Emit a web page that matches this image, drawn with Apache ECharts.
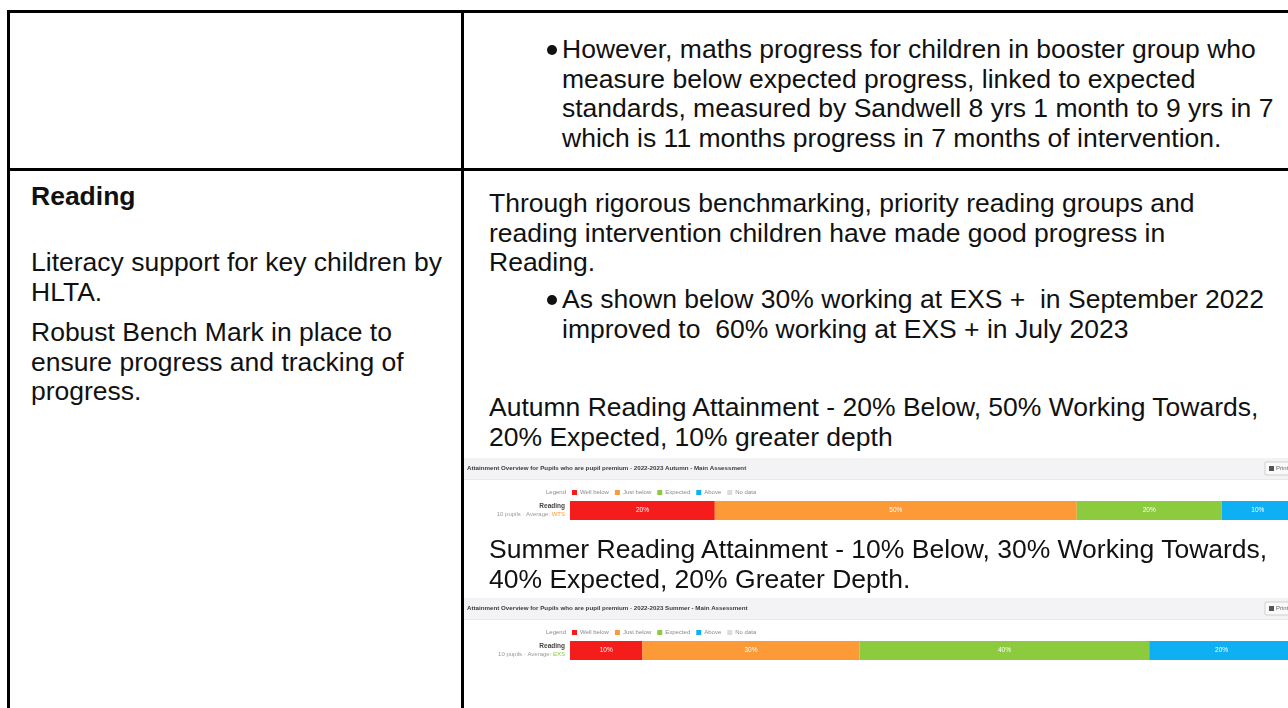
<!DOCTYPE html>
<html>
<head>
<meta charset="utf-8">
<script src="https://cdn.jsdelivr.net/npm/echarts@6/dist/echarts.min.js"></script>
<style>
  html, body { margin:0; padding:0; background:#fff; overflow:hidden; }
  body { width:1288px; height:708px; position:relative; font-family:"Liberation Sans", Arial, sans-serif; color:#111; }
  .ln { position:absolute; background:#000; }
  .p { position:absolute; font-size:26.5px; line-height:29.7px; white-space:nowrap; }
  .dot { position:absolute; width:10px; height:10px; border-radius:50%; background:#111; }
  .chart { position:absolute; left:464px; width:836px; }
</style>
</head>
<body>
<!-- table borders -->
<div class="ln" style="left:7px;top:10px;width:1281px;height:3px"></div>
<div class="ln" style="left:7px;top:10px;width:3px;height:698px"></div>
<div class="ln" style="left:461px;top:10px;width:3px;height:698px"></div>
<div class="ln" style="left:7px;top:168px;width:1281px;height:3px"></div>

<!-- top right cell -->
<div class="dot" style="left:547px;top:45px"></div>
<div class="p" style="left:562px;top:35px">However, maths progress for children in booster group who<br>measure below expected progress, linked to expected<br>standards, measured by Sandwell 8 yrs 1 month to 9 yrs in 7<br>which is 11 months progress in 7 months of intervention.</div>

<!-- left cell -->
<div class="p" style="left:31px;top:182px;font-weight:bold">Reading</div>
<div class="p" style="left:31px;top:248px">Literacy support for key children by<br>HLTA.</div>
<div class="p" style="left:31px;top:318px">Robust Bench Mark in place to<br>ensure progress and tracking of<br>progress.</div>

<!-- right cell -->
<div class="p" style="left:489px;top:189px">Through rigorous benchmarking, priority reading groups and<br>reading intervention children have made good progress in<br>Reading.</div>
<div class="dot" style="left:547px;top:295px"></div>
<div class="p" style="left:562px;top:285px">As shown below 30% working at EXS +&nbsp; in September 2022<br>improved to&nbsp; 60% working at EXS + in July 2023</div>
<div class="p" style="left:489px;top:393px">Autumn Reading Attainment - 20% Below, 50% Working Towards,<br>20% Expected, 10% greater depth</div>
<div id="c1" class="chart" style="top:458px;height:80px"></div>
<div class="p" style="left:489px;top:535px">Summer Reading Attainment - 10% Below, 30% Working Towards,<br>40% Expected, 20% Greater Depth.</div>
<div id="c2" class="chart" style="top:598px;height:110px"></div>

<script>
const categories = ['Reading'];
const seriesNames = ['Well below', 'Just below', 'Expected', 'Above', 'No data'];
const autumnValues = [20, 50, 20, 10];
const summerValues = [10, 30, 40, 20];
const pupilCount = 10;
const autumnAverage = 'WTS';
const summerAverage = 'EXS';
const autumnTitle = 'Attainment Overview for Pupils who are pupil premium - 2022-2023 Autumn - Main Assessment';
const summerTitle = 'Attainment Overview for Pupils who are pupil premium - 2022-2023 Summer - Main Assessment';

const colors = ['#f51c1c', '#fc9a38', '#8dcb3e', '#0fb0f3', '#dcdcdc'];
const FONT = '"Liberation Sans", Arial, sans-serif';

function makeChart(id, title, values, avg, avgColor) {
  const chart = echarts.init(document.getElementById(id), null, { renderer: 'canvas' });
  chart.setOption({
    animation: false,
    textStyle: { fontFamily: FONT },
    graphic: [
      { type: 'rect', silent: true, shape: { x: 0, y: 0, width: 900, height: 21 }, style: { fill: '#f3f3f5' } },
      { type: 'rect', silent: true, shape: { x: 0, y: 21, width: 900, height: 1 }, style: { fill: '#e8e8ea' } },
      { type: 'text', silent: true, style: { x: 3, y: 10.5, text: title, textVerticalAlign: 'middle', font: 'bold 6.2px ' + FONT, fill: '#3a3a3a' } },
      { type: 'rect', silent: true, shape: { x: 801, y: 4, width: 40, height: 13, r: 1 }, style: { fill: '#fafafa', stroke: '#cfcfcf', lineWidth: 1 } },
      { type: 'rect', silent: true, shape: { x: 805, y: 8, width: 5, height: 5 }, style: { fill: '#555' } },
      { type: 'text', silent: true, style: { x: 812, y: 10.5, text: 'Print', textVerticalAlign: 'middle', font: '6px ' + FONT, fill: '#666' } },
      { type: 'text', silent: true, style: { x: 102, y: 34, text: 'Legend', textAlign: 'right', textVerticalAlign: 'middle', font: '6px ' + FONT, fill: '#8a8a8a' } }
    ],
    legend: {
      left: 108, top: 31.5, padding: 0, itemWidth: 5, itemHeight: 5, itemGap: 6, icon: 'rect',
      textStyle: { fontSize: 6, color: '#8a8a8a', padding: [0, 0, 0, -2] },
      data: seriesNames, selectedMode: false
    },
    grid: { left: 106, top: 43, width: 724, height: 19, containLabel: false },
    xAxis: { type: 'value', min: 0, max: 100, show: false },
    yAxis: {
      type: 'category', data: categories,
      axisLine: { show: false }, axisTick: { show: false }, splitLine: { show: false },
      axisLabel: {
        margin: 5,
        formatter: v => '{b|' + v + '}\n{s|' + pupilCount + ' pupils · Average: }{a|' + avg + '}',
        rich: {
          b: { fontWeight: 'bold', fontSize: 6.5, color: '#444', align: 'right', lineHeight: 8 },
          s: { fontSize: 6, color: '#999', lineHeight: 8 },
          a: { fontSize: 6, color: avgColor, lineHeight: 8 }
        }
      }
    },
    series: seriesNames.map((n, i) => ({
      name: n, type: 'bar', stack: 'total', barWidth: '100%',
      data: i < values.length ? [values[i]] : [],
      itemStyle: { color: colors[i] },
      label: { show: true, position: 'inside', color: '#fff', fontSize: 6.5, formatter: '{c}%' }
    }))
  });
}

makeChart('c1', autumnTitle, autumnValues, autumnAverage, '#fc9a38');
makeChart('c2', summerTitle, summerValues, summerAverage, '#8dcb3e');
</script>
</body>
</html>
